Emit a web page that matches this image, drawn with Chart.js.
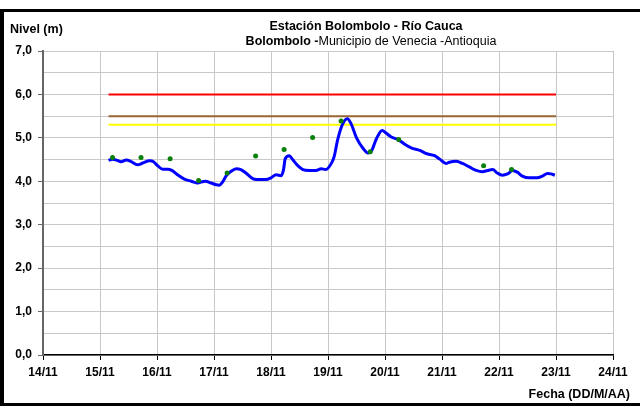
<!DOCTYPE html>
<html>
<head>
<meta charset="utf-8">
<script src="https://cdn.jsdelivr.net/npm/chart.js@4"></script>
<style>
  html, body { margin: 0; padding: 0; background: #fff; }
  canvas { display: block; }
</style>
</head>
<body>
<canvas id="grafico" width="640" height="409"></canvas>
<script>
// Nivel del río (m) - serie horaria (día de noviembre con fracción)
const dias = [
  15.15, 15.22, 15.30, 15.37, 15.46, 15.54, 15.66, 15.75, 15.87, 15.94,
  16.01, 16.10, 16.19, 16.26, 16.36, 16.48, 16.60, 16.70, 16.77, 16.85,
  16.95, 17.04, 17.09, 17.15, 17.21, 17.30, 17.39, 17.47, 17.56, 17.68,
  17.74, 17.91, 18.00, 18.09, 18.18, 18.22, 18.25, 18.32, 18.38, 18.47,
  18.56, 18.67, 18.79, 18.88, 18.96, 19.07, 19.11, 19.17, 19.25, 19.34,
  19.41, 19.50, 19.62, 19.70, 19.76, 19.85, 19.95, 20.02, 20.11, 20.23,
  20.34, 20.46, 20.61, 20.72, 20.87, 20.96, 21.07, 21.13, 21.25, 21.36,
  21.48, 21.60, 21.71, 21.80, 21.89, 21.97, 22.06, 22.15, 22.24, 22.32,
  22.41, 22.53, 22.67, 22.76, 22.85, 22.91, 22.98
];
const nivel = [
  4.48, 4.51, 4.48, 4.45, 4.49, 4.46, 4.38, 4.42, 4.47, 4.45,
  4.36, 4.28, 4.28, 4.25, 4.15, 4.05, 4.00, 3.96, 3.98, 4.00,
  3.96, 3.92, 3.91, 3.98, 4.12, 4.23, 4.29, 4.27, 4.19, 4.06,
  4.04, 4.04, 4.08, 4.15, 4.13, 4.27, 4.52, 4.59, 4.50, 4.36,
  4.27, 4.25, 4.25, 4.29, 4.27, 4.44, 4.58, 4.96, 5.30, 5.44,
  5.31, 5.00, 4.75, 4.65, 4.69, 4.98, 5.17, 5.11, 5.02, 4.96,
  4.86, 4.77, 4.71, 4.64, 4.59, 4.51, 4.41, 4.44, 4.46, 4.41,
  4.33, 4.25, 4.22, 4.25, 4.27, 4.19, 4.14, 4.17, 4.25, 4.21,
  4.12, 4.08, 4.08, 4.12, 4.18, 4.17, 4.14
];

// Lecturas de mira (puntos verdes)
const diasLectura = [15.22, 15.72, 16.23, 16.73, 17.23, 17.73, 18.23, 18.73, 19.23, 19.74, 20.24, 21.73, 22.22];
const nivelLectura = [4.55, 4.55, 4.52, 4.02, 4.19, 4.58, 4.73, 5.01, 5.39, 4.68, 4.96, 4.36, 4.27];

// Umbrales de alerta
const umbrales = [6.0, 5.5, 5.3];
const coloresUmbral = ["#ff0000", "#996633", "#ffff00"];
const umbralInicio = 15.15;
const umbralFin = 23.0;

// Ejes
const ejeXMin = 14, ejeXMax = 24;
const ejeYMin = 0, ejeYMax = 7;

const fuente = '"Liberation Sans", Arial, sans-serif';

const serieNivel = dias.map((d, i) => ({ x: d, y: nivel[i] }));
const serieLectura = diasLectura.map((d, i) => ({ x: d, y: nivelLectura[i] }));

const datasetsUmbral = umbrales.map((u, i) => ({
  data: [{ x: umbralInicio, y: u }, { x: umbralFin, y: u }],
  borderColor: coloresUmbral[i],
  borderWidth: 2,
  pointRadius: 0,
  fill: false,
}));

// Textos y marco
const textos = {
  id: "textos",
  beforeDraw(chart) {
    const ctx = chart.ctx;
    ctx.save();
    ctx.fillStyle = "#fff";
    ctx.fillRect(0, 0, chart.width, chart.height);
    ctx.restore();
  },
  afterDraw(chart) {
    const ctx = chart.ctx;
    ctx.save();
    // marco negro
    ctx.fillStyle = "#000";
    ctx.fillRect(0, 9, 640, 3);
    ctx.fillRect(0, 9, 4, 397);
    ctx.fillRect(0, 403, 640, 3);

    ctx.fillStyle = "#000";
    ctx.textBaseline = "middle";

    ctx.font = "bold 12.5px " + fuente;
    ctx.textAlign = "center";
    ctx.fillText("Estación Bolombolo - Río Cauca", 366, 27);

    const parte1 = "Bolombolo -";
    const parte2 = "Municipio de Venecia -Antioquia";
    ctx.font = "bold 12.5px " + fuente;
    const w1 = ctx.measureText(parte1).width;
    ctx.font = "12.5px " + fuente;
    const w2 = ctx.measureText(parte2).width;
    let x0 = 371 - (w1 + w2) / 2;
    ctx.textAlign = "left";
    ctx.font = "bold 12.5px " + fuente;
    ctx.fillText(parte1, x0, 42);
    ctx.font = "12.5px " + fuente;
    ctx.fillText(parte2, x0 + w1, 42);

    ctx.font = "bold 12.5px " + fuente;
    ctx.fillText("Nivel (m)", 10, 30);
    ctx.textAlign = "right";
    ctx.fillText("Fecha (DD/M/AA)", 630, 395);
    ctx.restore();
  },
};

new Chart(document.getElementById("grafico"), {
  type: "line",
  data: {
    datasets: [
      {
        data: serieLectura,
        showLine: false,
        pointRadius: 2.5,
        pointBackgroundColor: "#0a800a",
        pointBorderWidth: 0,
      },
      {
        data: serieNivel,
        borderColor: "#0000ff",
        borderWidth: 3,
        pointRadius: 0,
        cubicInterpolationMode: "monotone",
        fill: false,
      },
      ...datasetsUmbral,
    ],
  },
  options: {
    responsive: false,
    animation: false,
    layout: { padding: { top: 51, right: 27, left: 0, bottom: 0 } },
    plugins: { legend: { display: false }, tooltip: { enabled: false }, title: { display: false } },
    scales: {
      x: {
        type: "linear",
        min: ejeXMin,
        max: ejeXMax,
        afterFit: (s) => { s.height = 54; },
        ticks: {
          stepSize: 1,
          color: "#000",
          padding: 5,
          maxRotation: 0,
          font: { family: fuente, size: 12, weight: "bold" },
          callback: (v) => v + "/11",
        },
        grid: { color: "#c8c8c8", lineWidth: 1, tickLength: 5, tickColor: "#000" },
        border: { color: "#000", width: 1.5 },
      },
      y: {
        min: ejeYMin,
        max: ejeYMax,
        afterFit: (s) => { s.width = 43; },
        ticks: {
          stepSize: 0.5,
          color: "#000",
          padding: 6,
          font: { family: fuente, size: 12, weight: "bold" },
          callback: (v) => (Number.isInteger(v) ? v.toFixed(1).replace(".", ",") : ""),
        },
        grid: {
          color: "#c8c8c8",
          lineWidth: 1,
          tickLength: 5,
          tickColor: (c) => (c.tick && Number.isInteger(c.tick.value) ? "#666" : "rgba(0,0,0,0)"),
        },
        border: { color: "#666", width: 2 },
      },
    },
  },
  plugins: [textos],
});
</script>
</body>
</html>
